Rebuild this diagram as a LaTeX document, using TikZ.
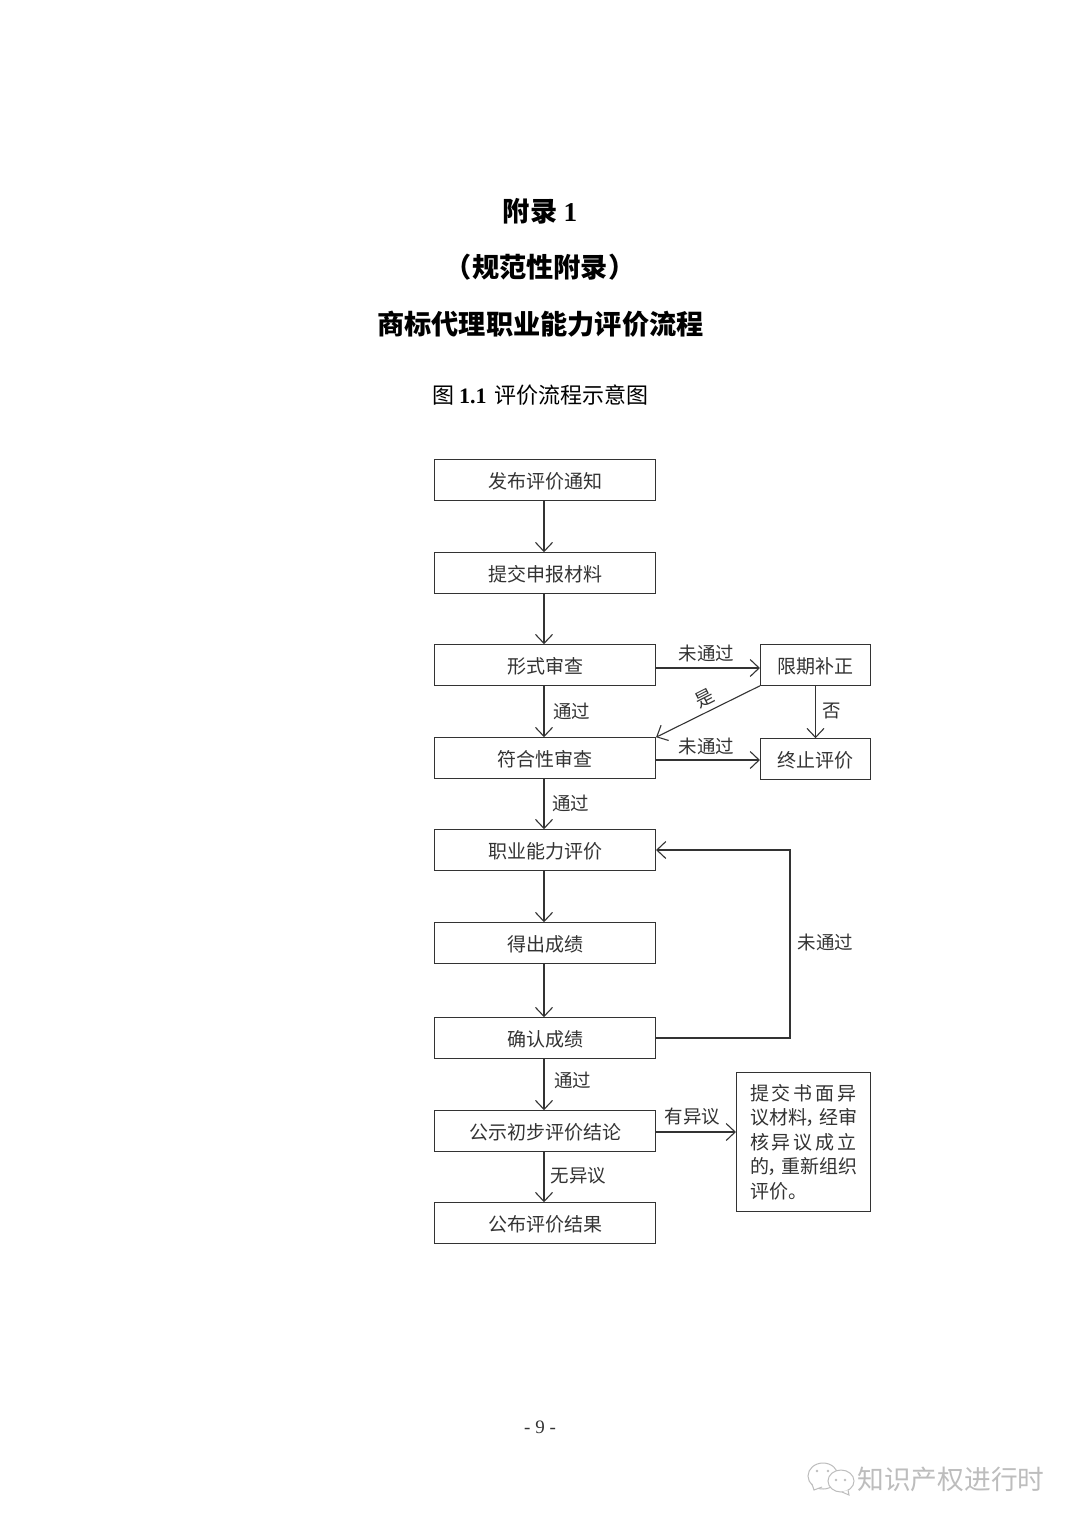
\documentclass[tikz,border=0pt]{standalone}
\usepackage{fontspec}
\setmainfont{Noto Sans CJK SC}
\newfontfamily\latf{Liberation Serif}
\newfontfamily\cjkp[RawFeature=+palt]{Noto Sans CJK SC}
\usetikzlibrary{arrows.meta,positioning}
\definecolor{ink}{HTML}{333333}
\definecolor{wmgray}{HTML}{BDBDBD}
\tikzset{
 frame/.style={draw=ink,line width=1.1pt,text=ink,minimum width=221pt,minimum height=40.5pt,inner sep=0pt,font=\fontsize{19}{22}\selectfont},
 box/.style={frame,text height=16.4pt,text depth=0pt},
 sidebox/.style={box,minimum width=110pt},
 lab/.style={text=ink,inner sep=0pt,font=\fontsize{18.5}{22}\selectfont},
 arr/.style={draw=ink,line width=1.1pt,-{Straight Barb[length=9pt,width=17pt,line width=1.1pt]}},
 title/.style={text=black,inner sep=0pt,font=\fontsize{27.2}{30}\selectfont\bfseries},
 wm/.style={draw=wmgray,line width=1pt,fill=white}
}
\begin{document}
\begin{tikzpicture}[x=1pt,y=-1pt]
\useasboundingbox (0,0) rectangle (1080,1527);
\fill[white] (0,0) rectangle (1080,1527);
% titles
\node[title] (t1) at (540,211) {附录 {\latf 1}};
\node[title] (t2) at (540,267) {（规范性附录）};
\node[title] (t3) at (540.5,324) {商标代理职业能力评价流程};
\node[text=black,inner sep=0pt,font=\fontsize{22}{25}\selectfont] (t4) at (540.5,395) {图 {\latf\bfseries 1.1}\hspace{8pt}评价流程示意图};
% main column
\node[box] (a) at (545,480) {发布评价通知};
\node[box] (b) at (545,573) {提交申报材料};
\node[box] (c) at (545,665) {形式审查};
\node[box] (d) at (545,758) {符合性审查};
\node[box] (e) at (545,850) {职业能力评价};
\node[box] (f) at (545,943) {得出成绩};
\node[box] (g) at (545,1038) {确认成绩};
\node[box] (h) at (545,1131) {公示初步评价结论};
\node[box] (i) at (545,1223) {公布评价结果};
% side boxes
\node[sidebox] (p) at (815.5,665) {限期补正};
\node[sidebox] (q) at (815.5,759) {终止评价};
\node[frame,minimum width=134pt,minimum height=138.5pt] (r) at (803.5,1142) {%
 \begin{minipage}{107pt}\baselineskip=24.6pt\lineskiplimit=-20pt
 \makebox[107pt][s]{提\hfil 交\hfil 书\hfil 面\hfil 异}\par
 \makebox[107pt][s]{议材料{\cjkp ，}\hfil 经审}\par
 \makebox[107pt][s]{核\hfil 异\hfil 议\hfil 成\hfil 立}\par
 \makebox[107pt][s]{的{\cjkp ，}\hfil 重新组织}\par
 评价。
 \end{minipage}};
% connectors
\draw[arr] ([xshift=-1pt]a.south) -- ([xshift=-1pt]b.north);
\draw[arr] ([xshift=-1pt]b.south) -- ([xshift=-1pt]c.north);
\draw[arr] ([xshift=-1pt]c.south) -- ([xshift=-1pt]d.north);
\draw[arr] ([xshift=-1pt]d.south) -- ([xshift=-1pt]e.north);
\draw[arr] ([xshift=-1pt]e.south) -- ([xshift=-1pt]f.north);
\draw[arr] ([xshift=-1pt]f.south) -- ([xshift=-1pt]g.north);
\draw[arr] ([xshift=-1pt]g.south) -- ([xshift=-1pt]h.north);
\draw[arr] ([xshift=-1pt]h.south) -- ([xshift=-1pt]i.north);
\draw[arr] ([yshift=-3pt]c.east) -- ([yshift=-3pt]p.west);
\draw[arr] ([yshift=-2pt]d.east) -- ([yshift=-1pt]q.west);
\draw[arr] (p.south) -- (q.north);
\draw[arr] (p.south west) -- (d.north east);
\coordinate (k) at (790,850);
\draw[arr] (g.east) -| (k) -- (e.east);
\draw[arr] ([yshift=-1pt]h.east) -- ([yshift=10pt]r.west);
% labels
\node[lab] (l1) at (706.5,653) {未通过};
\node[lab] (l2) at (706.5,746) {未通过};
\node[lab] (l3) at (832,711) {否};
\node[lab,rotate=27] (l4) at (705,698) {是};
\node[lab] (l5) at (571.5,711) {通过};
\node[lab] (l6) at (570.5,803) {通过};
\node[lab] (l7) at (825.5,942) {未通过};
\node[lab] (l8) at (572.5,1080) {通过};
\node[lab] (l9) at (692.5,1117) {有异议};
\node[lab] (l10) at (578.5,1176) {无异议};
% page number
\node[text=ink,inner sep=0pt,font=\latf\fontsize{19}{22}\selectfont] (pg) at (540,1427) {- 9 -};
% watermark
\node[text=wmgray,inner sep=0pt,font=\fontsize{26.7}{30}\selectfont] (w) at (951,1479) {知识产权进行时};
\draw[wm] (823,1476) ellipse (15pt and 13pt);
\draw[wm] (812,1484) -- (814,1490) -- (822,1487);
\draw[wm] (841,1481) ellipse (13pt and 11pt);
\draw[wm] (848,1490) -- (849,1495) -- (842,1492);
\fill[wmgray] (817,1471) circle (1.3pt) (828,1471) circle (1.3pt) (836,1480) circle (1.3pt) (845,1480) circle (1.3pt);
\end{tikzpicture}
\end{document}
